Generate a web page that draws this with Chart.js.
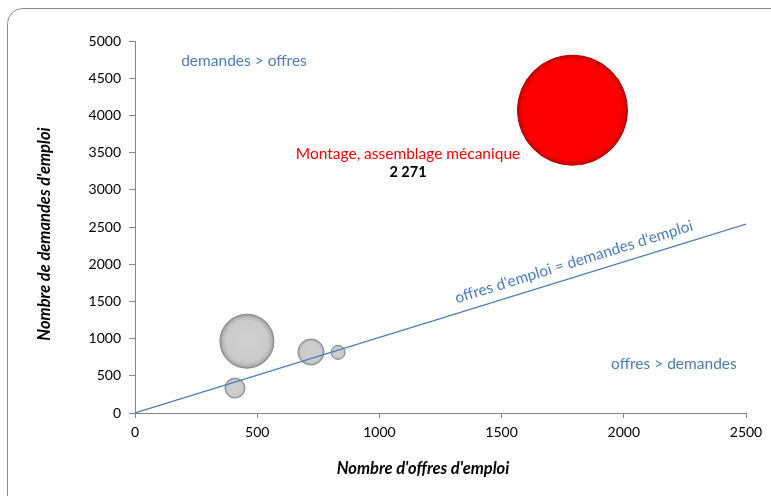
<!DOCTYPE html>
<html>
<head>
<meta charset="utf-8">
<script src="https://cdn.jsdelivr.net/npm/chart.js@4/dist/chart.umd.min.js"></script>
<style>
  html, body { margin: 0; padding: 0; background: #fff; }
  #wrap { width: 771px; height: 496px; position: relative; }
</style>
</head>
<body>
<div id="wrap"><canvas id="chart"></canvas></div>
<script>
// data
const offres = [1790, 458, 720, 409, 831];
const demandes = [4070, 965, 820, 335, 815];
const tailles = [2271, 547, 127, 75, 37];
const couleurs = ['red', 'grey', 'grey', 'grey', 'grey'];

const diagX = [0, 2500];
const diagY = [0, 2540];

const xTicks = [0, 500, 1000, 1500, 2000, 2500];
const yTicks = [0, 500, 1000, 1500, 2000, 2500, 3000, 3500, 4000, 4500, 5000];

const FONT = 'Lato, "Open Sans", sans-serif';
const BLUE = '#4A7EBB';
const maxR = 55;

function rayon(i) {
    return maxR * Math.sqrt(tailles[i] / tailles[0]);
}

function bubbleFill(ctx) {
    const i = ctx.dataIndex;
    const plain = couleurs[i] === 'red' ? '#ff0000' : '#cccccc';
    const sx = ctx.chart.scales.x, sy = ctx.chart.scales.y;
    if (i === undefined || !sx || !sy) return plain;
    const px = sx.getPixelForValue(offres[i]);
    const py = sy.getPixelForValue(demandes[i]);
    if (!isFinite(px) || !isFinite(py)) return plain;
    const r = rayon(i);
    const g = ctx.chart.ctx.createRadialGradient(px, py, 0, px, py, r);
    if (couleurs[i] === 'red') {
        g.addColorStop(0, '#ff0000');
        g.addColorStop(0.9, '#fb0000');
        g.addColorStop(1, '#c80000');
    } else {
        g.addColorStop(0, '#d0d0d0');
        g.addColorStop(0.78, '#cbcbcb');
        g.addColorStop(0.92, '#b4b4b4');
        g.addColorStop(1, '#8f8f8f');
    }
    return g;
}

const frame = {
    id: 'frame',
    beforeDraw(chart) {
        const c = chart.ctx;
        c.save();
        c.fillStyle = '#fff';
        c.fillRect(0, 0, chart.width, chart.height);
        c.strokeStyle = '#8a8a8a';
        c.lineWidth = 1;
        c.beginPath();
        c.roundRect(7.5, 8.5, chart.width + 20, chart.height + 20, 15);
        c.stroke();
        c.restore();
    }
};

const notes = {
    id: 'notes',
    afterDatasetsDraw(chart) {
        const c = chart.ctx;
        const x = chart.scales.x, y = chart.scales.y;
        c.save();
        c.textAlign = 'center';
        c.textBaseline = 'middle';

        c.fillStyle = BLUE;
        c.font = '15.5px ' + FONT;
        c.fillText('demandes > offres', x.getPixelForValue(446), y.getPixelForValue(4731));
        c.fillText('offres > demandes', x.getPixelForValue(2205), y.getPixelForValue(659));

        // label along the diagonal
        const x0 = x.getPixelForValue(diagX[0]), y0 = y.getPixelForValue(diagY[0]);
        const x1 = x.getPixelForValue(diagX[1]), y1 = y.getPixelForValue(diagY[1]);
        const ang = Math.atan2(y1 - y0, x1 - x0);
        c.save();
        c.translate(x.getPixelForValue(1796), y.getPixelForValue(2030));
        c.rotate(ang);
        c.fillText("offres d'emploi = demandes d'emploi", 0, 0);
        c.restore();

        c.fillStyle = '#ff0000';
        c.fillText('Montage, assemblage mécanique', x.getPixelForValue(1117), y.getPixelForValue(3481));
        c.fillStyle = '#000';
        c.font = 'bold 14.5px ' + FONT;
        c.fillText('2 271', x.getPixelForValue(1117), y.getPixelForValue(3239));

        // axis titles
        c.font = 'italic bold 16.5px ' + FONT;
        c.fillText("Nombre d'offres d'emploi", 423, 469);
        c.translate(45, 234);
        c.rotate(-Math.PI / 2);
        c.fillText("Nombre de demandes d'emploi", 0, 0);
        c.restore();
    }
};

new Chart(document.getElementById('chart'), {
    data: {
        datasets: [
            {
                type: 'line',
                data: diagX.map((v, i) => ({ x: v, y: diagY[i] })),
                borderColor: BLUE,
                borderWidth: 1.2,
                pointRadius: 0,
                order: 0
            },
            {
                type: 'bubble',
                data: offres.map((v, i) => ({ x: v, y: demandes[i], r: rayon(i) })),
                backgroundColor: bubbleFill,
                borderColor: ctx => couleurs[ctx.dataIndex] === 'red' ? '#b00000' : '#8a8a8a',
                borderWidth: 1,
                order: 1
            }
        ]
    },
    options: {
        responsive: true,
        maintainAspectRatio: false,
        animation: false,
        layout: { autoPadding: false, padding: { left: 0, top: 41, right: 25, bottom: 0 } },
        plugins: { legend: { display: false }, tooltip: { enabled: false } },
        scales: {
            x: {
                type: 'linear',
                min: 0, max: 2500,
                afterBuildTicks: s => { s.ticks = xTicks.map(v => ({ value: v })); },
                afterFit: s => { s.height = 83; },
                border: { color: '#868686', width: 1 },
                grid: { drawOnChartArea: false, drawTicks: true, tickLength: 5, color: '#868686' },
                ticks: { color: '#000', font: { family: FONT, size: 14 }, padding: 6, maxRotation: 0,
                         callback: v => String(v) }
            },
            y: {
                type: 'linear',
                min: 0, max: 5000,
                afterBuildTicks: s => { s.ticks = yTicks.map(v => ({ value: v })); },
                afterFit: s => { s.width = 135; },
                border: { color: '#868686', width: 1 },
                grid: { drawOnChartArea: false, drawTicks: true, tickLength: 6, color: '#868686' },
                ticks: { color: '#000', font: { family: FONT, size: 14 }, padding: 8,
                         callback: v => String(v) }
            }
        }
    },
    plugins: [frame, notes]
});
</script>
</body>
</html>
